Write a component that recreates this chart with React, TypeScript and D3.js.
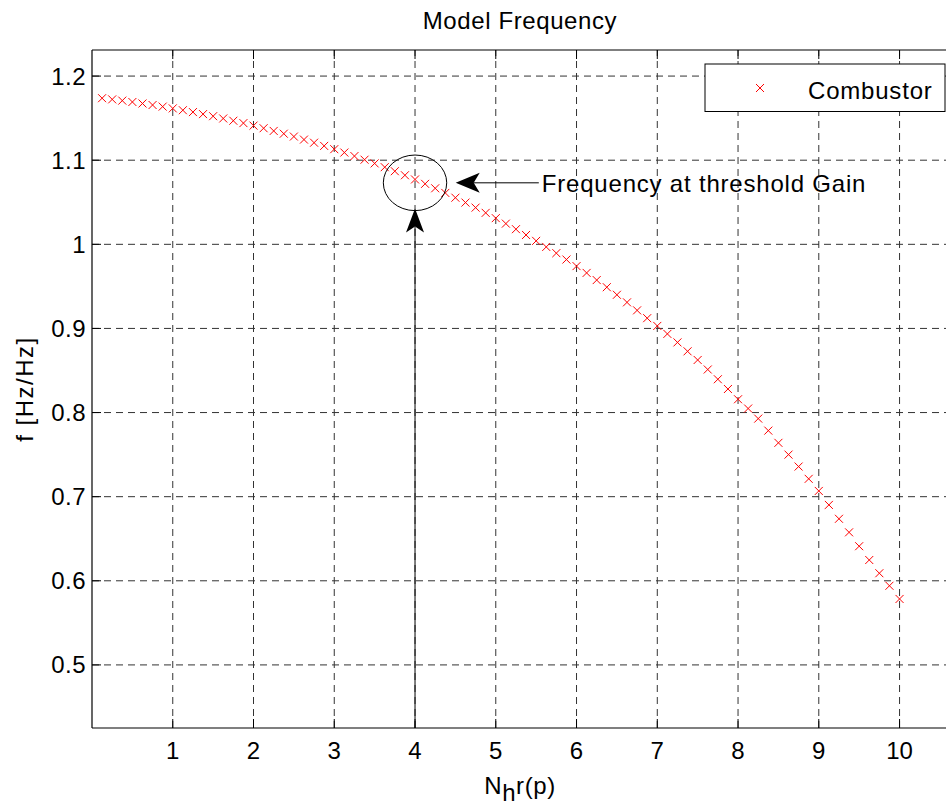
import React from "react";
import * as d3 from "d3";

const xValues = [
  0.125, 0.25, 0.375, 0.5, 0.625, 0.75, 0.875, 1,
  1.125, 1.25, 1.375, 1.5, 1.625, 1.75, 1.875, 2,
  2.125, 2.25, 2.375, 2.5, 2.625, 2.75, 2.875, 3,
  3.125, 3.25, 3.375, 3.5, 3.625, 3.75, 3.875, 4,
  4.125, 4.25, 4.375, 4.5, 4.625, 4.75, 4.875, 5,
  5.125, 5.25, 5.375, 5.5, 5.625, 5.75, 5.875, 6,
  6.125, 6.25, 6.375, 6.5, 6.625, 6.75, 6.875, 7,
  7.125, 7.25, 7.375, 7.5, 7.625, 7.75, 7.875, 8,
  8.125, 8.25, 8.375, 8.5, 8.625, 8.75, 8.875, 9,
  9.125, 9.25, 9.375, 9.5, 9.625, 9.75, 9.875, 10,
];

const combustor = [
  1.1737, 1.1723, 1.1708, 1.1692, 1.1674, 1.1656, 1.1637, 1.1616,
  1.1594, 1.1572, 1.1548, 1.1523, 1.1496, 1.1469, 1.1441, 1.1411,
  1.138, 1.1348, 1.1315, 1.1281, 1.1245, 1.1208, 1.117, 1.1131,
  1.1091, 1.1049, 1.1006, 1.0962, 1.0917, 1.0869, 1.0821, 1.0771,
  1.0719, 1.0666, 1.0611, 1.0554, 1.0496, 1.0436, 1.0374, 1.0311,
  1.0246, 1.018, 1.0111, 1.0041, 0.9969, 0.9895, 0.9819, 0.9741,
  0.966, 0.9575, 0.949, 0.94, 0.931, 0.9215, 0.9122, 0.903,
  0.8935, 0.8834, 0.8728, 0.8625, 0.8512, 0.8396, 0.828, 0.8158,
  0.8048, 0.7928, 0.7785, 0.764, 0.75, 0.7358, 0.7212, 0.7068,
  0.6902, 0.6737, 0.6576, 0.6411, 0.6247, 0.609, 0.5941, 0.5784,
];

const xTicks = [1, 2, 3, 4, 5, 6, 7, 8, 9, 10];
const yTicks = [0.5, 0.6, 0.7, 0.8, 0.9, 1, 1.1, 1.2];
const yTickLabels = ["0.5", "0.6", "0.7", "0.8", "0.9", "1", "1.1", "1.2"];

const title = "Model Frequency";
const xLabelMain = "N";
const xLabelSub = "h";
const xLabelRest = "r(p)";
const yLabel = "f [Hz/Hz]";
const seriesName = "Combustor";
const annotationText = "Frequency at threshold Gain";
// annotation in data coordinates: circled point, text anchor
const annotCircle = [4, 1.0731];
const annotText = [5.57, 1.0625];

const W = 946;
const H = 805;
const left = 92;
const right = 948;
const top = 50;
const bottom = 728;
const FONT = "'Liberation Sans', Arial, Helvetica, sans-serif";

export default function App() {
  const x = d3.scaleLinear().domain([0, 10.6]).range([left, right]);
  const y = d3.scaleLinear().domain([0.425, 1.231]).range([bottom, top]);
  const cx = x(annotCircle[0]);
  const cy = y(annotCircle[1]);
  const rx = 31.7;
  const ry = 27.8;
  const tx = x(annotText[0]);
  const ty = y(annotText[1]);
  const m = 4;
  const tickLen = 9;
  const grid = "#333";

  const hTipX = cx + rx + 9;
  const hArrow = `M${hTipX},${cy} L${hTipX + 24},${cy - 10} L${hTipX + 18},${cy} L${hTipX + 24},${cy + 10} Z`;
  const vTipY = cy + ry - 2;
  const vArrow = `M${cx},${vTipY} L${cx - 9},${vTipY + 24} L${cx},${vTipY + 18} L${cx + 9},${vTipY + 24} Z`;

  return (
    <svg
      width={W}
      height={H}
      style={{ position: "absolute", left: 0, top: 0, background: "#fff" }}
      fontFamily={FONT}
    >
      <rect x={0} y={0} width={W} height={H} fill="#fff" />
      <defs>
        <clipPath id="plotclip">
          <rect x={left} y={top} width={right - left} height={bottom - top} />
        </clipPath>
      </defs>
      <g stroke={grid} strokeWidth={1} strokeDasharray="7,5" fill="none">
        {xTicks.map((t) => (
          <line key={"gx" + t} x1={x(t)} x2={x(t)} y1={bottom} y2={top} />
        ))}
        {yTicks.map((t) => (
          <line key={"gy" + t} x1={left} x2={right} y1={y(t)} y2={y(t)} />
        ))}
      </g>
      <g stroke="#000" strokeWidth={1}>
        {xTicks.map((t) => (
          <React.Fragment key={"tx" + t}>
            <line x1={x(t)} x2={x(t)} y1={bottom} y2={bottom - tickLen} />
            <line x1={x(t)} x2={x(t)} y1={top} y2={top + tickLen} />
          </React.Fragment>
        ))}
        {yTicks.map((t) => (
          <line key={"ty" + t} x1={left} x2={left + tickLen} y1={y(t)} y2={y(t)} />
        ))}
      </g>
      <g stroke="#000" strokeWidth={1.2} fill="none">
        <line x1={left} x2={right} y1={bottom} y2={bottom} />
        <line x1={left} x2={right} y1={top} y2={top} />
        <line x1={left} x2={left} y1={top} y2={bottom} />
        <line x1={right} x2={right} y1={top} y2={bottom} />
      </g>
      <g fontSize={24} fill="#000">
        {xTicks.map((t) => (
          <text key={"lx" + t} x={x(t)} y={759} textAnchor="middle">
            {String(t)}
          </text>
        ))}
        {yTicks.map((t, i) => (
          <text key={"ly" + t} x={86} y={y(t) + 8.5} textAnchor="end" letterSpacing={0.5}>
            {yTickLabels[i]}
          </text>
        ))}
      </g>
      <g stroke="#ff0000" strokeWidth={1} clipPath="url(#plotclip)">
        {xValues.map((xv, i) => {
          const px = x(xv);
          const py = y(combustor[i]);
          return (
            <path
              key={"p" + i}
              d={`M${px - m},${py - m}L${px + m},${py + m}M${px - m},${py + m}L${px + m},${py - m}`}
            />
          );
        })}
      </g>
      <g stroke="#000" strokeWidth={1} fill="none">
        <ellipse cx={cx} cy={cy} rx={rx} ry={ry} />
        <line x1={hTipX + 18} x2={tx - 3} y1={cy} y2={cy} />
        <line x1={cx} x2={cx} y1={bottom} y2={vTipY + 18} />
      </g>
      <path d={hArrow} fill="#000" />
      <path d={vArrow} fill="#000" />
      <text x={tx} y={ty} fontSize={24} letterSpacing={0.8} fill="#000">
        {annotationText}
      </text>
      <rect x={705} y={64} width={240} height={47.5} fill="#fff" stroke="#000" strokeWidth={1} />
      <path
        d={`M${760 - m},${88 - m}L${760 + m},${88 + m}M${760 - m},${88 + m}L${760 + m},${88 - m}`}
        stroke="#ff0000"
        strokeWidth={1}
      />
      <text x={808} y={99} fontSize={24} letterSpacing={0.8} fill="#000">
        {seriesName}
      </text>
      <text x={(left + right) / 2} y={29} fontSize={24} letterSpacing={0.6} textAnchor="middle" fill="#000">
        {title}
      </text>
      <text x={(left + right) / 2} y={794} fontSize={24} letterSpacing={0.6} textAnchor="middle" fill="#000">
        {xLabelMain}
        <tspan dy={7} fontSize={24}>{xLabelSub}</tspan>
        <tspan dy={-7}>{xLabelRest}</tspan>
      </text>
      <text
        transform={`translate(33, ${(top + bottom) / 2}) rotate(-90)`}
        fontSize={24}
        letterSpacing={1.5}
        textAnchor="middle"
        fill="#000"
      >
        {yLabel}
      </text>
    </svg>
  );
}
